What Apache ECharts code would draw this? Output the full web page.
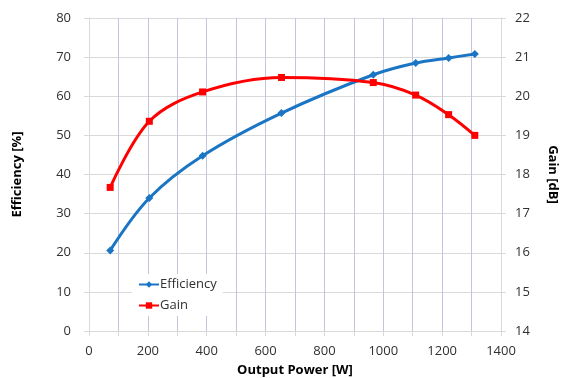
<!DOCTYPE html>
<html><head><meta charset="utf-8">
<script src="https://cdn.jsdelivr.net/npm/echarts@6/dist/echarts.min.js"></script>
<style>html,body{margin:0;padding:0;background:#fff}#c{width:561px;height:378px}</style>
</head><body><div id="c"></div>
<script>
const outputPower = [72, 205, 386, 654, 966, 1110, 1222, 1311];
const efficiency = [20.6, 34.0, 44.8, 55.7, 65.5, 68.5, 69.8, 70.8];
const gain = [17.67, 19.36, 20.11, 20.48, 20.35, 20.03, 19.53, 19.0];
const FONT = '"Open Sans", "Liberation Sans", sans-serif';

const chart = echarts.init(document.getElementById('c'), null, {renderer: 'canvas'});
const lbl = {color: '#303030', fontFamily: FONT, fontSize: 13};
chart.setOption({
  animation: false,
  backgroundColor: '#fff',
  grid: {left: 89, right: 60, top: 18, bottom: 47, containLabel: false, outerBoundsMode: 'none'},
  legend: {
    left: 132, top: 274, orient: 'vertical', itemGap: 8,
    backgroundColor: '#fff', padding: [4, 6, 4, 6],
    itemWidth: 20, itemHeight: 8,
    textStyle: {fontFamily: FONT, fontSize: 13, color: '#303030', padding: [0, 0, 0, -4]},
    data: ['Efficiency', 'Gain']
  },
  xAxis: {
    type: 'value', min: 0, max: 1400, interval: 100,
    name: 'Output Power [W]', nameLocation: 'middle', nameGap: 33,
    nameTextStyle: {fontFamily: FONT, fontSize: 13, fontWeight: 'bold', color: '#000'},
    axisLine: {lineStyle: {color: '#d9d9d9'}},
    axisTick: {show: true, length: 5, lineStyle: {color: '#d9d9d9'}},
    axisLabel: Object.assign({margin: 14, formatter: v => (v % 200 === 0 ? String(v) : '')}, lbl),
    splitLine: {show: true, lineStyle: {color: '#c4c4de', width: 1}}
  },
  yAxis: [{
    type: 'value', min: 0, max: 80, interval: 10, position: 'left',
    name: 'Efficiency [%]', nameLocation: 'middle', nameGap: 65, nameRotate: 90,
    nameTextStyle: {fontFamily: FONT, fontSize: 13, fontWeight: 'bold', color: '#000'},
    axisLine: {show: true, lineStyle: {color: '#d9d9d9'}},
    axisTick: {show: true, length: 5, lineStyle: {color: '#d9d9d9'}},
    axisLabel: Object.assign({margin: 18}, lbl),
    splitLine: {show: true, lineStyle: {color: '#d9d9d9', width: 1}}
  }, {
    type: 'value', min: 14, max: 22, interval: 1, position: 'right',
    name: 'Gain [dB]', nameLocation: 'middle', nameGap: 45, nameRotate: -90,
    nameTextStyle: {fontFamily: FONT, fontSize: 13, fontWeight: 'bold', color: '#000'},
    axisLine: {show: true, lineStyle: {color: '#d9d9d9'}},
    axisTick: {show: true, length: 5, lineStyle: {color: '#d9d9d9'}},
    axisLabel: Object.assign({margin: 14}, lbl),
    splitLine: {show: false}
  }],
  series: [{
    name: 'Efficiency', type: 'line', yAxisIndex: 0, smooth: 0.35,
    data: outputPower.map((x, i) => [x, efficiency[i]]),
    symbol: 'diamond', symbolSize: 8,
    lineStyle: {color: '#1a75c4', width: 3},
    itemStyle: {color: '#1a75c4'}
  }, {
    name: 'Gain', type: 'line', yAxisIndex: 1, smooth: 0.35,
    data: outputPower.map((x, i) => [x, gain[i]]),
    symbol: 'rect', symbolSize: 7,
    lineStyle: {color: '#ff0000', width: 3},
    itemStyle: {color: '#ff0000'}
  }]
});
</script></body></html>
